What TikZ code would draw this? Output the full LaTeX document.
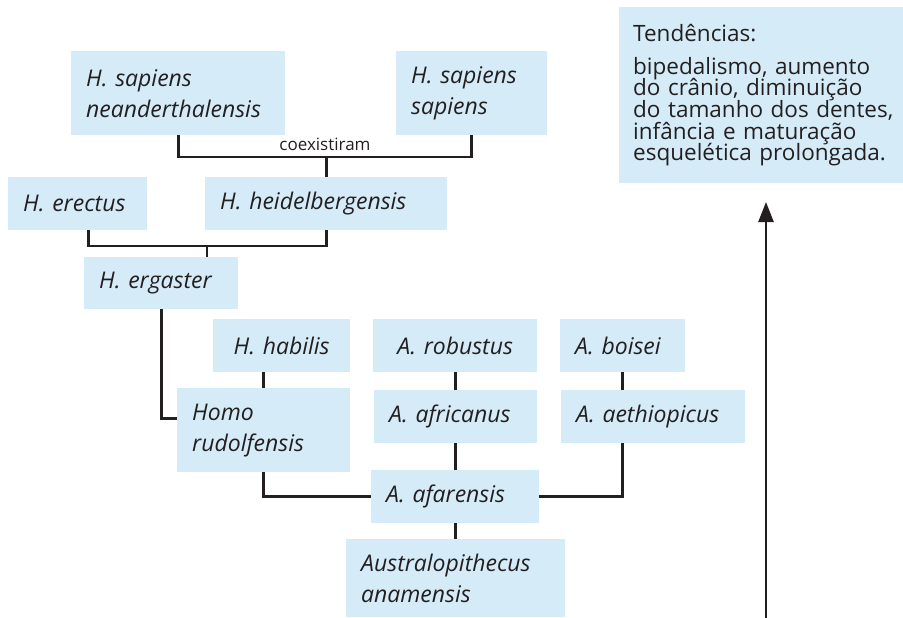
\documentclass[tikz,border=0pt]{standalone}
\usepackage{fontspec}
\setmainfont{Open Sans}
\usepackage{tikz}
\usetikzlibrary{arrows.meta,calc}
\definecolor{ink}{HTML}{231F20}
\definecolor{boxblue}{HTML}{D5ECF8}
\DeclareRobustCommand\trendfont{\fontsize{22.5}{21.7}\selectfont\lineskiplimit=-20pt\relax}
\tikzset{
  taxon/.style={fill=boxblue,anchor=north west,inner xsep=15pt,inner ysep=0pt,align=left,text=ink,font=\itshape\fontsize{23}{31}\selectfont},
  link/.style={draw=ink,line width=2.6pt},
}
\begin{document}
\begin{tikzpicture}[x=1pt,y=-1pt]
\useasboundingbox (0,0) rectangle (903,618);
% species boxes
\node[taxon,minimum width=214pt,minimum height=84pt,text width=184pt] (nean) at (71,51) {H. sapiens\\neanderthalensis};
\node[taxon,minimum width=151pt,minimum height=84pt,text width=121pt] (sap) at (396,51) {H. sapiens\\sapiens};
\node[taxon,minimum width=139pt,minimum height=53pt,text width=109pt] (erec) at (8,177) {H. erectus};
\node[taxon,minimum width=242pt,minimum height=53pt,text width=212pt] (heid) at (205,177) {H. heidelbergensis};
\node[taxon,minimum width=154pt,minimum height=52pt,text width=124pt] (erg) at (84,257) {H. ergaster};
\node[taxon,minimum width=137pt,minimum height=53pt,text width=107pt,align=center] (hab) at (213,319) {H. habilis};
\node[taxon,minimum width=164pt,minimum height=53pt,text width=134pt,align=center] (rob) at (373,319) {A. robustus};
\node[taxon,minimum width=125pt,minimum height=53pt,text width=95pt] (boi) at (560,319) {A. boisei};
\node[taxon,minimum width=173pt,minimum height=84pt,text width=143pt] (rud) at (177,388) {Homo\\rudolfensis};
\node[taxon,minimum width=163pt,minimum height=53pt,text width=133pt] (afr) at (374,390) {A. africanus};
\node[taxon,minimum width=184pt,minimum height=53pt,text width=154pt] (aet) at (561,390) {A. aethiopicus};
\node[taxon,minimum width=168pt,minimum height=53pt,text width=138pt] (afa) at (371,470) {A. afarensis};
\node[taxon,minimum width=219pt,minimum height=78pt,text width=189pt] (ana) at (346,539) {Australopithecus\\anamensis};
% trends
\node[taxon,font=\trendfont,inner xsep=14pt,minimum width=290pt,minimum height=176pt,text width=262pt] (tend) at (619,7) {Tendências:\\[11pt]bipedalismo, aumento\\do crânio, diminuição\\do tamanho dos dentes,\\infância e maturação\\esquelética prolongada.};
% connectors
\coordinate (j1) at (heid.north |- 0,157);
\draw[link] (nean.south) |- (j1) -| (sap.south);
\draw[link] (j1) -- (heid.north);
\node[text=ink,font=\fontsize{17}{17}\selectfont,anchor=base] (coex) at (325,150) {coexistiram};
\coordinate (j2) at (207,246);
\draw[link] ([xshift=11pt]erec.south) |- (j2) -| (heid.south);
\draw[link] (j2) -- (j2 |- erg.north);
\draw[link] (erg.south) |- ([yshift=12pt]rud.west);
\draw[link] (hab.south -| rud.north) -- (rud.north);
\draw[link] (rud.south) |- (afa.west);
\draw[link] (afa.east) -| (boi.south |- aet.south);
\foreach \a/\b in {rob/afr,afr/afa,boi/aet,afa/ana} \draw[link] (\a.south) -- (\a.south |- \b.north);
\coordinate (abase) at (766,618);
\coordinate (atip) at (766,202);
\draw[link,-{Stealth[length=20pt,width=15pt,inset=0pt]}] (abase) -- (atip);
\end{tikzpicture}
\end{document}
